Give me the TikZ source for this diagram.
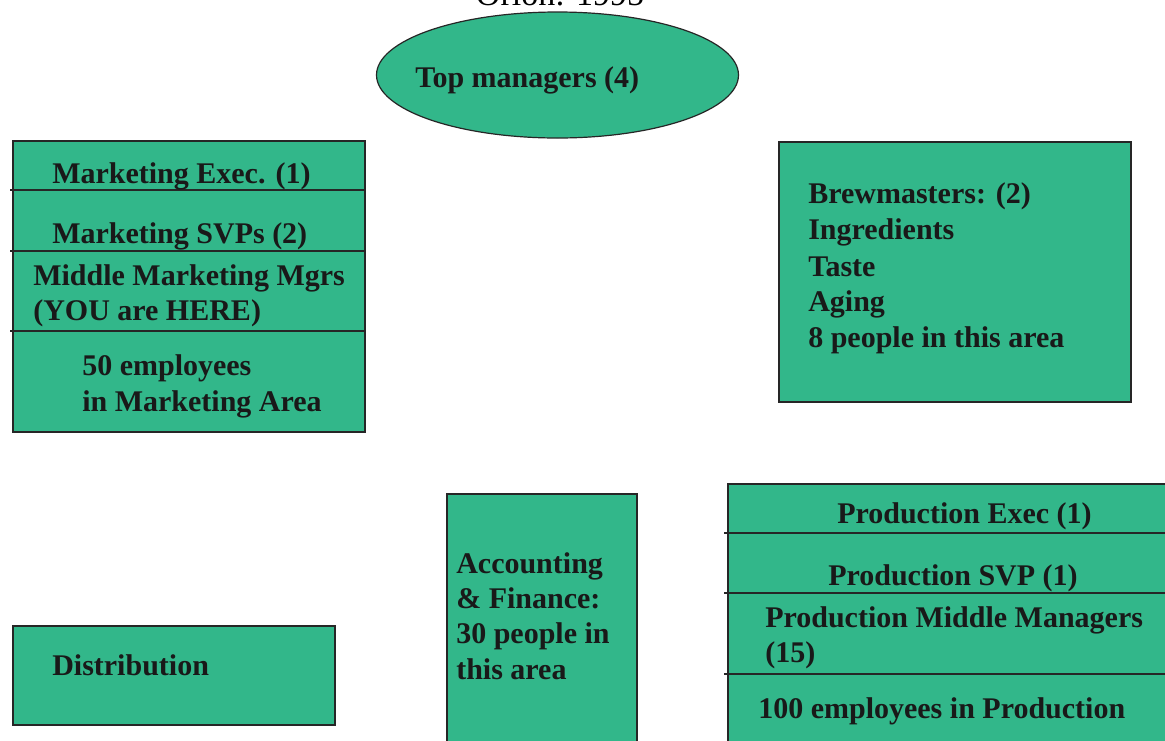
\documentclass[tikz,border=0pt]{standalone}
\usepackage{fontspec}
\setmainfont{Liberation Serif}
\usetikzlibrary{shapes.geometric}
\definecolor{boxgreen}{RGB}{50,183,138}
\tikzset{
  box/.style={draw=black!85, line width=0.9pt, fill=boxgreen, rectangle, inner sep=0pt},
  oval/.style={draw=black!85, line width=0.9pt, fill=boxgreen, ellipse, inner sep=0pt},
  lbl/.style={font=\bfseries\fontsize{22.5}{27}\selectfont, inner sep=0pt, anchor=base west, text=black!90},
  ttl/.style={font=\fontsize{25.5}{30}\selectfont, inner sep=0pt, anchor=base, text=black},
  divider/.style={draw=black!85, line width=0.9pt}
}
\begin{document}
\begin{tikzpicture}[x=0.75pt,y=-0.75pt]
\clip (0,0) rectangle (1165,740);
\fill[white] (0,0) rectangle (1165,740);

% title (cut by the top edge)
\node[ttl] (title) at (560,5) {Orion: 1995};

% top managers
\node[oval, minimum width=271.5pt, minimum height=94.5pt] (top) at (557.5,75) {};
\node[lbl] (toptxt) at (415,87) {Top managers (4)};

% marketing
\node[box, minimum width=264pt, minimum height=218.25pt] (mkt) at (189,286.5) {};
\coordinate (m1l) at (10,190); \coordinate (m1r) at (365,190);
\coordinate (m2l) at (10,251); \coordinate (m2r) at (365,251);
\coordinate (m3l) at (10,331); \coordinate (m3r) at (365,331);
\draw[divider] (m1l) -- (m1r);
\draw[divider] (m2l) -- (m2r);
\draw[divider] (m3l) -- (m3r);
\node[lbl] (mk1) at (52,183) {Marketing Exec. (1)};
\node[lbl] (mk2) at (52,243) {Marketing SVPs (2)};
\node[lbl] (mk3) at (33,285) {Middle Marketing Mgrs};
\node[lbl] (mk4) at (33,320) {(YOU are HERE)};
\node[lbl] (mk5) at (82,375) {50 employees};
\node[lbl] (mk6) at (82,411) {in Marketing Area};

% brewmasters
\node[box, minimum width=264pt, minimum height=195pt] (brew) at (955,272) {};
\node[lbl] (br1) at (808,203) {Brewmasters: (2)};
\node[lbl] (br2) at (808,239) {Ingredients};
\node[lbl] (br3) at (808,276) {Taste};
\node[lbl] (br4) at (808,311) {Aging};
\node[lbl] (br5) at (808,347) {8 people in this area};

% production
\node[box, minimum width=331.5pt, minimum height=199.5pt] (prod) at (949,617) {};
\coordinate (p1l) at (724,533); \coordinate (p1r) at (1170,533);
\coordinate (p2l) at (724,593); \coordinate (p2r) at (1170,593);
\coordinate (p3l) at (724,674); \coordinate (p3r) at (1170,674);
\draw[divider] (p1l) -- (p1r);
\draw[divider] (p2l) -- (p2r);
\draw[divider] (p3l) -- (p3r);
\node[lbl] (pr1) at (837,523) {Production Exec (1)};
\node[lbl] (pr2) at (828,585) {Production SVP (1)};
\node[lbl] (pr3) at (765,627) {Production Middle Managers};
\node[lbl] (pr4) at (765,662) {(15)};
\node[lbl] (pr5) at (758,718) {100 employees in Production};

% accounting
\node[box, minimum width=142.5pt, minimum height=192pt] (acct) at (542,622) {};
\node[lbl] (ac1) at (456,573) {Accounting};
\node[lbl] (ac2) at (456,608) {\& Finance:};
\node[lbl] (ac3) at (456,643) {30 people in};
\node[lbl] (ac4) at (456,679) {this area};

% distribution
\node[box, minimum width=241.5pt, minimum height=74.25pt] (dist) at (174,675.5) {};
\node[lbl] (di1) at (52,675) {Distribution};
\end{tikzpicture}
\end{document}
